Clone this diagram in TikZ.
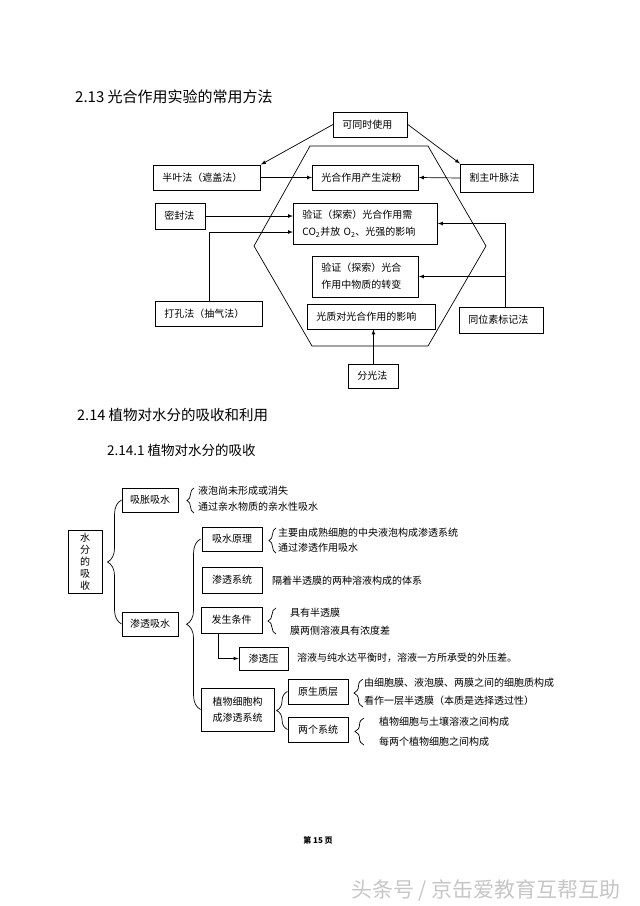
\documentclass[tikz,border=0pt]{standalone}
\usepackage{fontspec}
\setmainfont{Noto Sans CJK SC}
\usetikzlibrary{arrows}
\usetikzlibrary{calc}
\usetikzlibrary{decorations.pathreplacing}
\tikzstyle{arrow} = [line width=0.7pt,->,>=latex]
\tikzstyle{box} = [draw,line width=0.9pt,inner xsep=9pt,inner ysep=0pt,anchor=west,align=left]
\tikzstyle{tbox} = [draw,line width=0.9pt,inner sep=0pt,align=center]
\tikzstyle{txt} = [anchor=west,inner sep=0pt]
\tikzset{brc/.style={decorate,decoration={brace,amplitude=#1},line width=0.7pt}}

\begin{document}
\begin{tikzpicture}[x=1pt,y=-1pt,font=\fontsize{10pt}{17pt}\selectfont]
\useasboundingbox (0,0) rectangle (640,906);

% 2.13
\node[txt,font=\fontsize{15pt}{18pt}\selectfont] (head1) at (75,97) {2.13 光合作用实验的常用方法};

\draw[line width=0.7pt] (310,146) -- (428,146) -- (486,246) -- (428,346) -- (312,346) -- (254,246) -- cycle;

\node[box,text width=56pt,minimum height=25pt] (same) at (333,124.5) {可同时使用};
\node[box,text width=89pt,minimum height=25pt] (half) at (153,177.5) {半叶法（遮盖法）};
\node[box,text width=88pt,minimum height=25pt] (starch) at (312,177.5) {光合作用产生淀粉};
\node[box,text width=55pt,minimum height=28pt] (vein) at (460,178) {割主叶脉法};
\node[box,text width=32pt,minimum height=26pt] (seal) at (155,216) {密封法};
\node[box,text width=126pt,minimum height=41pt] (co2) at (293,223.5) {验证（探索）光合作用需\\CO\textsubscript{2}并放 O\textsubscript{2}、光强的影响};
\node[box,text width=88pt,minimum height=41pt] (matter) at (312,276.5) {验证（探索）光合\\作用中物质的转变};
\node[box,text width=89pt,minimum height=25pt] (punch) at (155,313.5) {打孔法（抽气法）};
\node[box,text width=110pt,minimum height=25pt] (light) at (307,316.5) {光质对光合作用的影响};
\node[box,text width=66pt,minimum height=26pt] (iso) at (459,320) {同位素标记法};
\node[box,text width=32pt,minimum height=24pt] (split) at (348,376) {分光法};

\draw[arrow] (same.west) -- (half.north east);
\draw[arrow] (same.east) -- (vein.north west);
\draw[arrow] (half.east) -- (starch.west);
\draw[arrow] (vein.west) -- (starch.east);
\draw[arrow] (seal.east) -- (seal.east -| co2.west);
\draw[arrow] (punch.north) |- ($(co2.west)+(0,8.5)$);
\coordinate (isotop) at ($(iso.north)+(4,0)$);
\draw[arrow] (isotop) |- (co2.east);
\draw[arrow] (isotop |- matter.east) -- (matter.east);
\draw[arrow] (split.north) -- (split.north |- light.south);

% 2.14
\node[txt,font=\fontsize{14.5pt}{18pt}\selectfont] (head2) at (77,415) {2.14 植物对水分的吸收和利用};
\node[txt,font=\fontsize{13.5pt}{16pt}\selectfont] (head3) at (107,450) {2.14.1 植物对水分的吸收};

\node[tbox,minimum width=34pt,minimum height=63pt,font=\fontsize{10pt}{12pt}\selectfont] (water) at (85,561.5) {水\\分\\的\\吸\\收};
\node[tbox,minimum width=56pt,minimum height=24pt] (swell) at (150,500) {吸胀吸水};
\node[tbox,minimum width=56pt,minimum height=24pt] (osmo) at (150,624) {渗透吸水};
\node[tbox,minimum width=60pt,minimum height=24pt] (princ) at (232,539) {吸水原理};
\node[tbox,minimum width=60pt,minimum height=26pt] (sys) at (232,580) {渗透系统};
\node[tbox,minimum width=61pt,minimum height=26pt] (cond) at (231.5,620) {发生条件};
\node[tbox,minimum width=49pt,minimum height=23pt] (press) at (263.5,658.5) {渗透压};
\node[tbox,minimum width=73pt,minimum height=43pt,font=\fontsize{10pt}{16pt}\selectfont] (plant) at (237.5,709.5) {植物细胞构\\成渗透系统};
\node[tbox,minimum width=60pt,minimum height=25pt] (proto) at (318,691.5) {原生质层};
\node[tbox,minimum width=60pt,minimum height=25pt] (two) at (318,729.5) {两个系统};

\draw[arrow] ($(cond.south)+(-13.5,0)$) |- (press.west);

% braces
\draw[brc=14pt] (osmo.west) -- (swell.west);
\draw[brc=14pt] (plant.west) -- (plant.west |- princ.west);
\draw[brc=11pt] (two.west) -- (proto.west);
\draw[brc=7pt] (194,513) -- (194,488);
\draw[brc=7pt] (276,553) -- (276,528);
\draw[brc=8pt] (276,634) -- (276,608);
\draw[brc=9pt] (363,707) -- (363,679);
\draw[brc=9pt] (364,745) -- (364,718);

\foreach \px/\py/\txt [count=\i] in {198/491/液泡尚未形成或消失, 198/507/通过亲水物质的亲水性吸水,
	278/533/主要由成熟细胞的中央液泡构成渗透系统, 278/548/通过渗透作用吸水,
	272/581/隔着半透膜的两种溶液构成的体系, 290/613/具有半透膜, 290/631/膜两侧溶液具有浓度差,
	297/658/溶液与纯水达平衡时，溶液一方所承受的外压差。,
	364/683/由细胞膜、液泡膜、两膜之间的细胞质构成, 364/701/看作一层半透膜（本质是选择透过性）,
	379/722/植物细胞与土壤溶液之间构成, 379/742/每两个植物细胞之间构成}{
	\node[txt] (note\i) at (\px,\py) {\txt};
}

\node[font=\fontsize{8pt}{10pt}\selectfont\bfseries] (page) at (318,840) {第 15 页};
\node[font=\fontsize{21pt}{24pt}\selectfont,text=gray!45] (mark) at (486,890) {头条号 / 京缶爱教育互帮互助};
\end{tikzpicture}
\end{document}
